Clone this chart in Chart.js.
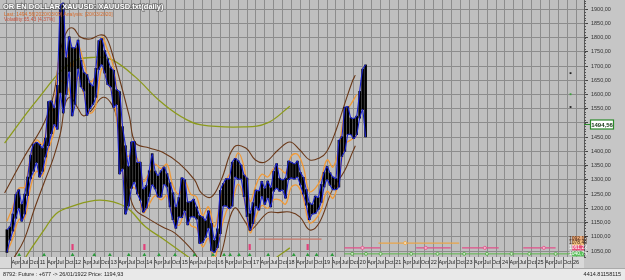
<!DOCTYPE html>
<html>
<head>
<meta charset="utf-8">
<script src="https://cdn.jsdelivr.net/npm/chart.js@4.4.1/dist/chart.umd.min.js"></script>
<style>
  html, body { margin: 0; padding: 0; background: #e8e8e8; overflow: hidden; }
  canvas { display: block; }
</style>
</head>
<body>
<canvas id="chart" width="625" height="280"></canvas>
<script>
// monthly high / low, Feb 2010 .. Mar 2020
const priceHigh = [
  1125, 1135, 1180, 1249, 1265, 1215, 1250, 1310, 1387, 1425, 1432,
  1425, 1412, 1447, 1575, 1577, 1553, 1632, 1913, 1921, 1730, 1803, 1765,
  1764, 1791, 1720, 1677, 1670, 1640, 1630, 1692, 1789, 1796, 1754, 1725,
  1694, 1685, 1617, 1610, 1487, 1420, 1348, 1433, 1434, 1361, 1362, 1268,
  1280, 1332, 1392, 1331, 1315, 1332, 1345, 1322, 1290, 1255, 1205, 1238,
  1307, 1300, 1222, 1224, 1232, 1205, 1175, 1170, 1157, 1191, 1147, 1088,
  1128, 1263, 1287, 1304, 1303, 1362, 1375, 1367, 1352, 1317, 1306, 1182,
  1220, 1264, 1261, 1295, 1270, 1296, 1273, 1330, 1357, 1306, 1300, 1306,
  1366, 1361, 1356, 1366, 1326, 1309, 1266, 1220, 1214, 1243, 1238, 1284,
  1326, 1347, 1325, 1310, 1305, 1439, 1452, 1555, 1557, 1518, 1516, 1524,
  1611, 1689, 1704
];
const priceLow = [
  1045, 1088, 1120, 1165, 1200, 1155, 1180, 1245, 1305, 1330, 1360,
  1310, 1330, 1380, 1420, 1462, 1495, 1478, 1605, 1535, 1600, 1680, 1525,
  1565, 1690, 1627, 1612, 1527, 1550, 1565, 1590, 1688, 1705, 1675, 1635,
  1626, 1555, 1564, 1321, 1338, 1180, 1208, 1270, 1292, 1251, 1228, 1187,
  1201, 1241, 1283, 1268, 1240, 1240, 1284, 1275, 1205, 1160, 1130, 1170,
  1167, 1191, 1142, 1170, 1170, 1162, 1077, 1080, 1098, 1130, 1052, 1046,
  1062, 1111, 1208, 1208, 1199, 1208, 1310, 1302, 1303, 1241, 1171, 1123,
  1146, 1207, 1194, 1242, 1214, 1236, 1205, 1260, 1271, 1260, 1265, 1236,
  1301, 1307, 1303, 1310, 1282, 1250, 1211, 1160, 1180, 1182, 1196, 1221,
  1275, 1301, 1281, 1266, 1266, 1275, 1382, 1400, 1460, 1459, 1445, 1459,
  1517, 1547, 1451
];

// inner band, every second month Feb 2010 .. Dec 2019
const orangeUpper = [
  1155, 1205, 1270, 1275, 1385, 1440,
  1425, 1515, 1565, 1755, 1745, 1695,
  1770, 1710, 1645, 1670, 1800, 1755,
  1695, 1535, 1385, 1385, 1375, 1295,
  1325, 1355, 1340, 1355, 1280, 1250,
  1295, 1250, 1240, 1175, 1205, 1135,
  1225, 1300, 1335, 1395, 1345, 1225,
  1280, 1320, 1310, 1340, 1340, 1325,
  1385, 1390, 1345, 1260, 1270, 1305,
  1370, 1345, 1415, 1535, 1565, 1600
];
const orangeLower = [
  1045, 1095, 1160, 1165, 1275, 1330,
  1315, 1405, 1475, 1645, 1635, 1585,
  1660, 1600, 1535, 1560, 1690, 1645,
  1585, 1425, 1275, 1275, 1265, 1185,
  1215, 1245, 1230, 1245, 1170, 1140,
  1185, 1140, 1130, 1065, 1095, 1025,
  1115, 1190, 1225, 1285, 1235, 1115,
  1170, 1210, 1200, 1230, 1230, 1215,
  1275, 1280, 1235, 1150, 1160, 1195,
  1260, 1235, 1305, 1425, 1440, 1455
];

// outer band [year, price]
const brownUpper = [
  [2010.06, 1254], [2010.61, 1380], [2011.17, 1500], [2011.44, 1600], [2011.64, 1760],
  [2011.83, 1826], [2011.99, 1833], [2012.19, 1802], [2012.47, 1795], [2012.74, 1809],
  [2012.91, 1802], [2013.10, 1738], [2013.30, 1650], [2013.57, 1521], [2013.74, 1430],
  [2014.13, 1412], [2014.49, 1398], [2014.96, 1359], [2015.40, 1300], [2015.59, 1254],
  [2015.87, 1240], [2016.15, 1300], [2016.51, 1415], [2016.84, 1412], [2017.11, 1370],
  [2017.39, 1363], [2017.75, 1405], [2018.08, 1433], [2018.36, 1405], [2018.64, 1370],
  [2018.91, 1377], [2019.11, 1398], [2019.38, 1475], [2019.61, 1563], [2019.83, 1644],
  [2019.92, 1668]
];
const brownLower = [
  [2010.06, 980], [2010.34, 1030], [2010.61, 1090], [2010.89, 1195], [2011.17, 1290],
  [2011.44, 1380], [2011.64, 1470], [2011.77, 1570], [2011.91, 1590], [2012.13, 1550],
  [2012.27, 1525], [2012.47, 1540], [2012.83, 1590], [2013.10, 1560], [2013.24, 1500],
  [2013.38, 1380], [2013.57, 1250], [2013.74, 1194], [2014.02, 1170], [2014.49, 1135],
  [2014.85, 1113], [2015.40, 1043], [2015.59, 1000], [2015.87, 950], [2016.15, 1040],
  [2016.51, 1200], [2016.84, 1150], [2016.98, 1124], [2017.45, 1184], [2017.75, 1185],
  [2018.08, 1187], [2018.36, 1170], [2018.64, 1124], [2018.91, 1150], [2019.27, 1264],
  [2019.61, 1330], [2019.83, 1394], [2019.92, 1420]
];

// long band [year, price]
const oliveUpper = [
  [2010.06, 1429], [2010.97, 1580], [2011.91, 1710], [2012.63, 1731], [2013.10, 1721],
  [2013.74, 1661], [2014.40, 1580], [2015.04, 1521], [2015.59, 1493], [2016.78, 1486],
  [2017.45, 1500], [2018.08, 1559]
];
const oliveLower = [
  [2010.06, 880], [2010.61, 1019], [2011.17, 1124], [2011.50, 1180], [2011.91, 1205],
  [2012.74, 1229], [2013.46, 1205], [2014.02, 1135], [2014.49, 1095], [2015.23, 1029],
  [2015.80, 985], [2016.70, 960], [2017.45, 1000], [2017.72, 1029], [2018.08, 1061]
];

// levels [from, to, price]
const salmonLevel = [[2017.20, 2018.97, 1092]];
const orangeLevel = [[2020.57, 2022.84, 1078]];
const pinkLevel = [[2019.61, 2020.63, 1061], [2021.63, 2022.60, 1061], [2022.92, 2023.95, 1061], [2024.64, 2025.55, 1061]];
const greenLevel = [[2019.61, 2026.22, 1040]];
const pinkDots = [2020.12, 2021.90, 2023.56, 2025.22];
const orangeDots = [2021.32];
const greenDots = [2019.83, 2020.22, 2020.63, 2021.49, 2022.23, 2022.98, 2023.62, 2024.31, 2024.81, 2025.55];

// signals
const buySignals = [2010.47, 2011.17, 2011.97, 2012.58, 2013.02, 2013.55, 2013.99, 2014.40, 2014.85, 2015.40,
  2015.92, 2016.23, 2016.40, 2016.65, 2016.95, 2017.47, 2018.19, 2018.58, 2018.83, 2019.27];
const alertSignals = [2011.97, 2013.99, 2016.95, 2018.58];
const targetPrices = [1675, 1601, 1556];
const targetDate = 2025.97;

const levelBoxes = ['1092,15', '1078,40', '1061,22', '1040,75'];
const levelBoxPrices = [1094, 1078, 1061, 1040];
const lastPrice = 1494.56;

const priceTicks = [1050, 1100, 1150, 1200, 1250, 1300, 1350, 1400, 1450, 1500, 1550, 1600, 1650, 1700, 1750, 1800, 1850, 1900];
const quarterNames = ['', 'Apr', 'Jul', 'Oct'];
const firstYear = 2010, lastYear = 2026;

const X_MIN = 2010.059, X_MAX = 2026.22;
const FONT = '"Liberation Sans", Arial, sans-serif';

const months = priceHigh.map((_, i) => firstYear + (1 + i + 0.5) / 12);
const orangeX = orangeUpper.map((_, i) => firstYear + (1 + 2 * i + 0.5) / 12);
const pts = arr => arr.map(p => ({ x: p[0], y: p[1] }));
const segs = arr => arr.flatMap(s => [{ x: s[0], y: s[2] }, { x: s[1], y: s[2] }, { x: s[1], y: null }]);

const quarterTicks = [];
for (let y = firstYear; y <= lastYear; y++) {
  for (let q = 0; q < 4; q++) {
    const v = y + q / 4;
    if (v > X_MIN && v < X_MAX) quarterTicks.push(v);
  }
}
function quarterLabel(v) {
  const y = Math.floor(v + 1e-6);
  const q = Math.round((v - y) * 4);
  return q === 0 ? String(y % 100).padStart(2, '0') : quarterNames[q];
}

const line = (data, color, width, order, extra) => Object.assign({
  type: 'line', data, borderColor: color, borderWidth: width, pointRadius: 0, pointHitRadius: 0,
  tension: 0.4, fill: false, order, spanGaps: false
}, extra || {});

const decor = {
  id: 'decor',
  beforeDraw(chart) {
    const { ctx, chartArea: a } = chart;
    ctx.save();
    ctx.fillStyle = '#e9e9e9';
    ctx.fillRect(0, 0, chart.width, chart.height);
    ctx.fillStyle = '#c6c6c6';
    ctx.fillRect(a.right, 0, chart.width - a.right, a.bottom + 11);
    ctx.fillStyle = '#d9d9d9';
    ctx.fillRect(0, a.bottom, a.right, 11);
    ctx.fillStyle = '#bfbfbf';
    ctx.fillRect(a.left, a.top, a.right - a.left, a.bottom - a.top);
    ctx.restore();
  },
  afterDraw(chart) {
    const { ctx, chartArea: a, scales } = chart;
    const xs = scales.x, ys = scales.y;
    ctx.save();
    // x label cells
    ctx.strokeStyle = '#666';
    ctx.lineWidth = 1;
    quarterTicks.forEach(v => {
      const px = Math.round(xs.getPixelForValue(v)) + 0.5;
      ctx.beginPath(); ctx.moveTo(px, a.bottom); ctx.lineTo(px, a.bottom + 11); ctx.stroke();
    });
    ctx.beginPath(); ctx.moveTo(0, a.bottom + 11.5); ctx.lineTo(chart.width, a.bottom + 11.5);
    ctx.strokeStyle = '#aaa'; ctx.stroke();
    // minor price ticks
    ctx.strokeStyle = '#555';
    for (let v = 1030; v <= 1930; v += 10) {
      const py = Math.round(ys.getPixelForValue(v)) + 0.5;
      ctx.beginPath(); ctx.moveTo(a.right, py); ctx.lineTo(a.right + 2, py); ctx.stroke();
    }
    // level boxes near right edge
    const boxFill = ['#e8a878', '#f0c080', '#e8507a', '#5cc05c'];
    const boxText = ['#402010', '#402010', '#ffffff', '#ffffff'];
    ctx.font = '5px ' + FONT;
    ctx.textBaseline = 'middle';
    ctx.textAlign = 'center';
    levelBoxes.forEach((t, i) => {
      const py = ys.getPixelForValue(levelBoxPrices[i]);
      ctx.fillStyle = boxFill[i];
      ctx.fillRect(a.right - 12, py - 2.5, 12, 5);
      ctx.fillStyle = boxText[i];
      ctx.fillText(t, a.right - 6, py);
    });
    // last price box
    const ly = ys.getPixelForValue(lastPrice);
    ctx.strokeStyle = '#2a8a2a';
    ctx.beginPath(); ctx.moveTo(a.right, Math.round(ly) + 0.5); ctx.lineTo(a.right + 6, Math.round(ly) + 0.5); ctx.stroke();
    ctx.fillStyle = '#ffffff';
    ctx.fillRect(a.right + 6.5, ly - 4.5, 23, 9);
    ctx.lineWidth = 1.2;
    ctx.strokeRect(a.right + 6.5, ly - 4.5, 23, 9);
    ctx.fillStyle = '#113311';
    ctx.font = 'bold 6px ' + FONT;
    ctx.fillText(lastPrice.toFixed(2).replace('.', ','), a.right + 18, ly + 0.5);
    // titles
    ctx.textAlign = 'left';
    ctx.textBaseline = 'alphabetic';
    ctx.font = 'bold 7.5px ' + FONT;
    ctx.lineWidth = 1.6;
    ctx.strokeStyle = 'rgba(70,70,70,0.55)';
    ctx.strokeText('OR EN DOLLAR XAUUSD: XAUUSD.txt(daily)', 3, 9);
    ctx.fillStyle = '#ffffff';
    ctx.fillText('OR EN DOLLAR XAUUSD: XAUUSD.txt(daily)', 3, 9);
    ctx.font = '5px ' + FONT;
    ctx.fillStyle = '#d86a28';
    ctx.fillText('Last: 1494,56[2020/03/09] Analysis: [20/03/2020]', 4, 15.5);
    ctx.fillStyle = '#c8503a';
    ctx.fillText('Volatility:65,43 [4,37%]', 4, 21);
    // status bar
    ctx.fillStyle = '#222';
    ctx.font = '5.5px ' + FONT;
    ctx.fillText('8792: Future : +677 -> 26/01/1922 Price: 1194,93', 3, 276);
    ctx.textAlign = 'right';
    ctx.fillText('4414.81158115', 621, 276);
    ctx.restore();
  }
};

new Chart(document.getElementById('chart').getContext('2d'), {
  type: 'line',
  data: {
    datasets: [
      line(pts(oliveUpper), '#8c9a1c', 1.3, 20),
      line(pts(oliveLower), '#8c9a1c', 1.3, 20),
      line(pts(brownUpper), '#6a3818', 1.1, 18),
      line(pts(brownLower), '#6a3818', 1.1, 18),
      line(orangeX.map((x, i) => ({ x, y: orangeUpper[i] })), '#f09a38', 1.3, 16),
      line(orangeX.map((x, i) => ({ x, y: orangeLower[i] })), '#f09a38', 1.3, 16),
      {
        type: 'bar', order: 14, grouped: false, barThickness: 2, backgroundColor: '#000000', borderWidth: 0,
        data: months.map((x, i) => ({ x, y: [priceLow[i], priceHigh[i]] }))
      },
      line(months.map((x, i) => ({ x, y: priceHigh[i] })), '#1a22d0', 1.1, 12, { tension: 0.15 }),
      line(months.map((x, i) => ({ x, y: priceLow[i] })), '#1a22d0', 1.1, 12, { tension: 0.15 }),
      line(segs(salmonLevel), '#c8786a', 1.2, 10, { tension: 0 }),
      line(segs(orangeLevel), '#eaa448', 1.2, 10, { tension: 0 }),
      line(segs(pinkLevel), '#e2508a', 1.2, 10, { tension: 0 }),
      line(segs(greenLevel), '#5cb84a', 1, 10, { tension: 0 }),
      line(pinkDots.map(x => ({ x, y: 1061 })), 'transparent', 0, 5, {
        showLine: false, pointRadius: 1.6, pointBackgroundColor: '#f2b8cc', pointBorderColor: '#e2508a', pointBorderWidth: 0.8 }),
      line(orangeDots.map(x => ({ x, y: 1078 })), 'transparent', 0, 5, {
        showLine: false, pointRadius: 1.6, pointBackgroundColor: '#f8dcb0', pointBorderColor: '#eaa448', pointBorderWidth: 0.8 }),
      line(greenDots.map(x => ({ x, y: 1040 })), 'transparent', 0, 5, {
        showLine: false, pointRadius: 1.5, pointBackgroundColor: '#cfe8c8', pointBorderColor: '#4aa83c', pointBorderWidth: 0.8 }),
      line(buySignals.map(x => ({ x, y: 1036 })), 'transparent', 0, 4, {
        showLine: false, pointStyle: 'triangle', pointRadius: 2.2, pointBackgroundColor: '#2a9a3a', pointBorderColor: '#2a9a3a', pointBorderWidth: 0 }),
      line(alertSignals.map(x => ({ x, y: 1064 })), 'transparent', 0, 4, {
        showLine: false, pointStyle: 'line', rotation: 90, pointRadius: 3, pointBorderColor: '#e2407a', pointBorderWidth: 2.2 }),
      line(targetPrices.map(y => ({ x: targetDate, y })), 'transparent', 0, 4, {
        showLine: false, pointStyle: 'rect', pointRadius: 1.3,
        pointBackgroundColor: ['#202020', '#3aa03a', '#202020'], pointBorderWidth: 0 })
    ]
  },
  options: {
    responsive: false,
    animation: false,
    layout: { autoPadding: false, padding: { left: 0, right: 0, top: 0, bottom: 12 } },
    plugins: { legend: { display: false }, tooltip: { enabled: false } },
    scales: {
      x: {
        type: 'linear', min: X_MIN, max: X_MAX,
        afterBuildTicks: s => { s.ticks = quarterTicks.map(value => ({ value })); },
        afterFit: s => { s.height = 11; s.paddingLeft = 0; s.paddingRight = 0; },
        grid: { color: '#8c8c8c', lineWidth: 1, drawTicks: false },
        border: { display: false },
        ticks: {
          autoSkip: false, maxRotation: 0, minRotation: 0, padding: 2.5, labelOffset: 4.5,
          color: '#222', font: { size: 5.5, family: FONT },
          callback: v => quarterLabel(v)
        }
      },
      y: {
        position: 'right', min: 1029, max: 1932,
        afterBuildTicks: s => { s.ticks = priceTicks.map(value => ({ value })); },
        afterFit: s => { s.width = 41; s.paddingTop = 0; s.paddingBottom = 0; },
        grid: { color: '#8c8c8c', lineWidth: 1, tickLength: 4, tickColor: '#444' },
        border: { display: true, color: '#5a5a5a' },
        ticks: {
          padding: 3, color: '#333', font: { size: 5.5, family: FONT },
          callback: v => v.toFixed(2).replace('.', ',')
        }
      }
    }
  },
  plugins: [decor]
});
</script>
</body>
</html>
